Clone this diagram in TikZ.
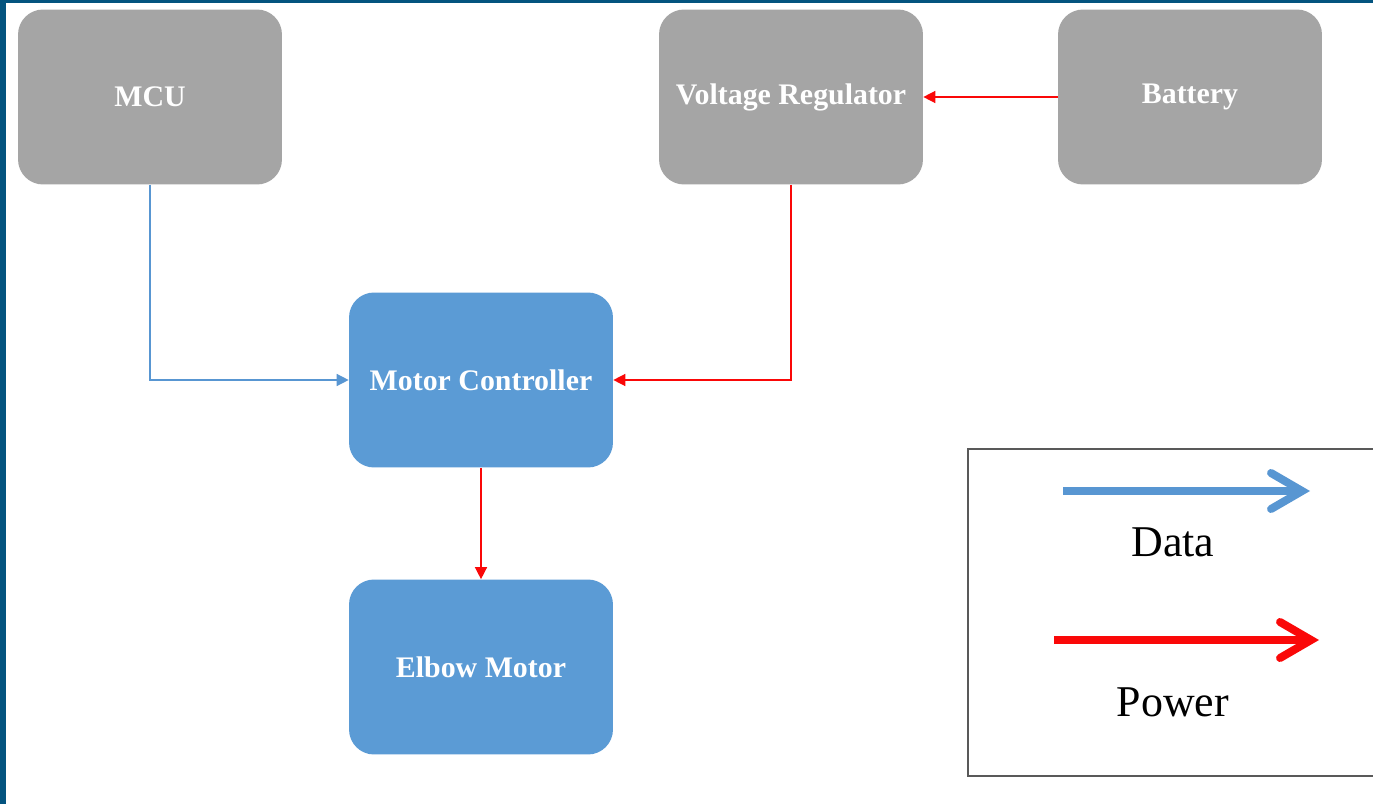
\documentclass[tikz,border=0pt]{standalone}
\usepackage{fontspec}
\setmainfont{Liberation Serif}
\usetikzlibrary{arrows.meta}
\definecolor{frameblue}{RGB}{4,84,127}
\definecolor{boxgray}{RGB}{165,165,165}
\definecolor{boxblue}{RGB}{91,155,213}
\definecolor{datablue}{RGB}{88,150,210}
\definecolor{powerred}{RGB}{250,8,8}
\begin{document}
\begin{tikzpicture}[x=0.02cm, y=-0.02cm,
    block/.style={rounded corners=0.5cm, minimum width=5.28cm, minimum height=3.5cm,
      text=white, font=\bfseries\fontsize{17}{20}\selectfont, inner sep=0pt},
    graybox/.style={block, fill=boxgray},
    bluebox/.style={block, fill=boxblue},
    data/.style={draw=datablue, line width=0.8pt, -{Triangle[length=0.24cm, width=0.24cm]}},
    power/.style={draw=powerred, line width=0.8pt, -{Triangle[length=0.24cm, width=0.24cm]}},
    legarrow/.style={line width=0.16cm, -{Straight Barb[length=0.62cm, width=0.72cm, line cap=round]}},
    legtext/.style={font=\fontsize{25}{28}\selectfont}]
    \clip (0,0) rectangle (1373,804);
    \fill[white] (0,0) rectangle (1373,804);
    \fill[frameblue] (0,0) rectangle (6,804);
    \fill[frameblue] (0,0) rectangle (1373,3);
    \node[graybox] (MCU) at (150,97) {MCU};
    \node[graybox] (VR) at (791,97) {Voltage Regulator};
    \node[graybox] (Bat) at (1190,97) {Battery};
    \node[bluebox] (MC) at (481,380) {Motor Controller};
    \node[bluebox] (EM) at (481,667) {Elbow Motor};
    \draw[data] (MCU.south) |- (MC.west);
    \draw[power] (VR.south) |- (MC.east);
    \draw[power] (Bat.west) -- (VR.east);
    \draw[power] (MC.south) -- (EM.north);
    % legend
    \draw[black!65, line width=1.2pt] (1380,449) -- (968,449) -- (968,776) -- (1380,776);
    \coordinate (d1) at (1063,491); \coordinate (d2) at (1310,491);
    \coordinate (p1) at (1054,640); \coordinate (p2) at (1319,640);
    \draw[legarrow, datablue] (d1) -- (d2);
    \draw[legarrow, powerred] (p1) -- (p2);
    \node[legtext] (DataT) at (1173,542) {Data};
    \node[legtext] (PowT) at (1173,702) {Power};
\end{tikzpicture}
\end{document}
